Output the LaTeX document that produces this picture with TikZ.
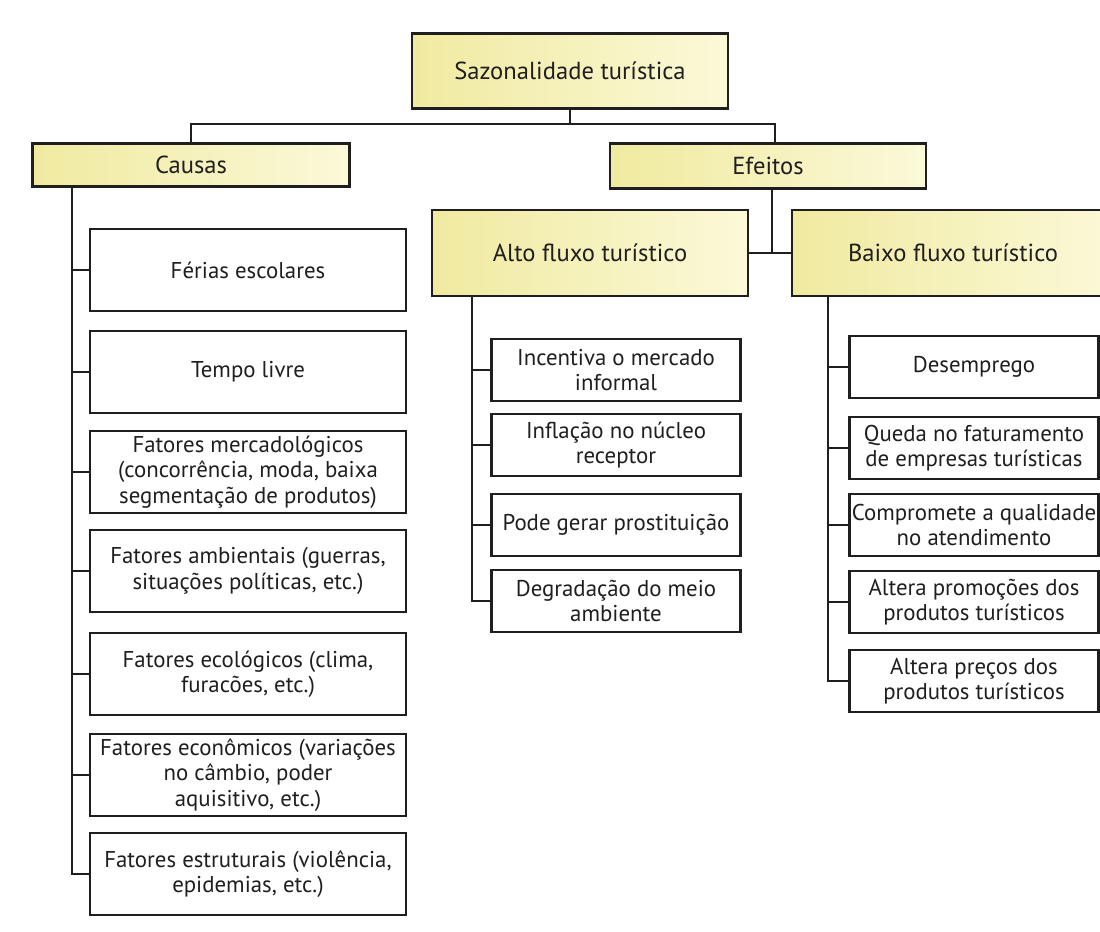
\documentclass[tikz,border=0pt]{standalone}
\usepackage{fontspec}
\setmainfont{PT Sans}
\definecolor{headL}{RGB}{240,234,160}
\definecolor{headR}{RGB}{251,249,216}
\definecolor{ink}{RGB}{32,30,30}
\begin{document}
\begin{tikzpicture}[x=0.02cm, y=-0.02cm, line width=1.1pt, color=ink,
head node/.style={draw, line width=1.6pt, left color=headL, right color=headR, minimum width=6.32cm, inner sep=2pt, font=\fontsize{14}{16}\selectfont},
item node/.style={draw, line width=1.6pt, fill=white, align=center, minimum width=6.32cm, minimum height=1.64cm, inner sep=1pt, font=\fontsize{13}{14.4}\selectfont},
small node/.style={item node, minimum width=4.98cm, minimum height=1.24cm}]
\useasboundingbox[fill=white] (0,0) rectangle (1100,931);
% headers
\node [head node, minimum height=1.5cm](top) at (570,71) {Sazonalidade turística};
\node [head node, minimum width=6.34cm, minimum height=0.86cm](causas) at (191,165) {Causas};
\node [head node, minimum height=0.9cm](efeitos) at (768,166) {Efeitos};
\node [head node, minimum height=1.72cm](alto) at (590,253) {Alto fluxo turístico};
\node [head node, minimum width=6.44cm, minimum height=1.72cm](baixo) at (953,253) {Baixo fluxo turístico};
% causas
\node [item node](c1) at (248,270) {Férias escolares};
\node [item node](c2) at (248,372) {Tempo livre};
\node [item node](c3) at (248,472) {Fatores mercadológicos\\(concorrência, moda, baixa\\segmentação de produtos)};
\node [item node](c4) at (248,571) {Fatores ambientais (guerras,\\situações políticas, etc.)};
\node [item node](c5) at (248,674) {Fatores ecológicos (clima,\\furacões, etc.)};
\node [item node](c6) at (248,775) {Fatores econômicos (variações\\no câmbio, poder\\aquisitivo, etc.)};
\node [item node](c7) at (248,874) {Fatores estruturais (violência,\\epidemias, etc.)};
% alto fluxo
\node [small node](a1) at (616,370) {Incentiva o mercado\\informal};
\node [small node](a2) at (616,445) {Inflação no núcleo\\receptor};
\node [small node](a3) at (616,525) {Pode gerar prostituição};
\node [small node](a4) at (616,601) {Degradação do meio\\ambiente};
% baixo fluxo
\node [small node](b1) at (974,367) {Desemprego};
\node [small node](b2) at (974,448) {Queda no faturamento\\de empresas turísticas};
\node [small node](b3) at (974,525) {Compromete a qualidade\\no atendimento};
\node [small node](b4) at (974,602) {Altera promoções dos\\produtos turísticos};
\node [small node](b5) at (974,681) {Altera preços dos\\produtos turísticos};
% connectors
\coordinate (hub) at (570,124);
\coordinate (cs) at (72,186);
\coordinate (as) at (472,296);
\coordinate (bs) at (828,296);
\draw (top.south) -- (hub);
\draw (causas.north) |- (hub) -| ([xshift=0.14cm]efeitos.north);
\draw ([xshift=0.08cm]efeitos.south) -- ([xshift=0.08cm]efeitos.south |- alto.east);
\draw (alto.east) -- (baixo.west);
\draw (cs) |- (c7.west);
\draw (cs |- c1.west) -- (c1.west);
\draw (cs |- c2.west) -- (c2.west);
\draw (cs |- c3.west) -- (c3.west);
\draw (cs |- c4.west) -- (c4.west);
\draw (cs |- c5.west) -- (c5.west);
\draw (cs |- c6.west) -- (c6.west);
\draw (as) |- (a4.west);
\draw (as |- a1.west) -- (a1.west);
\draw (as |- a2.west) -- (a2.west);
\draw (as |- a3.west) -- (a3.west);
\draw (bs) |- (b5.west);
\draw (bs |- b1.west) -- (b1.west);
\draw (bs |- b2.west) -- (b2.west);
\draw (bs |- b3.west) -- (b3.west);
\draw (bs |- b4.west) -- (b4.west);
\end{tikzpicture}
\end{document}
